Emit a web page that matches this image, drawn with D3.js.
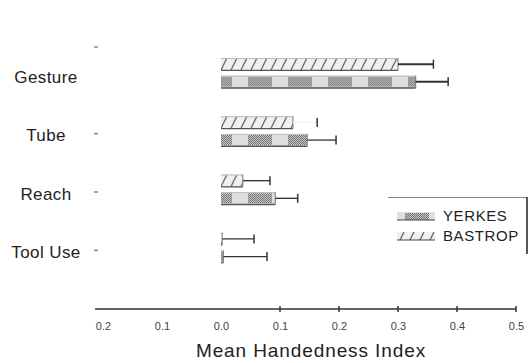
<!DOCTYPE html>
<html>
<head>
<meta charset="utf-8">
<script src="https://cdn.jsdelivr.net/npm/d3@7"></script>
<style>
  body { margin: 0; background: #fff; }
  svg { display: block; font-family: "Liberation Sans", Arial, sans-serif; }
</style>
</head>
<body>
<div class="content"></div>
<script>
const categories = ["Gesture", "Tube", "Reach", "Tool Use"];
const seriesNames = ["BASTROP", "YERKES"];
const bastropMeans = [0.30, 0.122, 0.037, 0.002];
const bastropErrors = [0.36, 0.163, 0.083, 0.056];
const yerkesMeans = [0.33, 0.146, 0.092, 0.004];
const yerkesErrors = [0.385, 0.195, 0.13, 0.078];
const tickValues = [-0.2, -0.1, 0.0, 0.1, 0.2, 0.3, 0.4, 0.5];
const tickLabels = ["0.2", "0.1", "0.0", "0.1", "0.2", "0.3", "0.4", "0.5"];

const width = 531;
const height = 363;

const svg = d3
  .select(".content")
  .append("svg")
  .attr("width", width)
  .attr("height", height);

//--> patterns
const defs = svg.append("defs");

const checker = defs
  .append("pattern")
  .attr("id", "checker")
  .attr("patternUnits", "userSpaceOnUse")
  .attr("width", 2)
  .attr("height", 2);
checker.append("rect").attr("width", 2).attr("height", 2).attr("fill", "#cfcfcf");
checker.append("rect").attr("width", 1).attr("height", 1).attr("fill", "#6a6a6a");
checker.append("rect").attr("x", 1).attr("y", 1).attr("width", 1).attr("height", 1).attr("fill", "#6a6a6a");

const stipple = defs
  .append("pattern")
  .attr("id", "stipple")
  .attr("patternUnits", "userSpaceOnUse")
  .attr("width", 40)
  .attr("height", 12);
stipple.append("rect").attr("width", 40).attr("height", 12).attr("fill", "#dedede");
stipple.append("rect").attr("x", 8).attr("y", 1).attr("width", 24).attr("height", 10).attr("fill", "url(#checker)");

const hatch = defs
  .append("pattern")
  .attr("id", "hatch")
  .attr("patternUnits", "userSpaceOnUse")
  .attr("width", 10)
  .attr("height", 12);
hatch.append("rect").attr("width", 10).attr("height", 12).attr("fill", "#f0f0f0");
hatch
  .append("line")
  .attr("x1", 1).attr("y1", 12).attr("x2", 7).attr("y2", 0)
  .attr("stroke", "#666")
  .attr("stroke-width", 1.3);

const fills = { BASTROP: "url(#hatch)", YERKES: "url(#stipple)" };

//--> scales
const x = d3.scaleLinear().domain([-0.2, 0.5]).range([103, 516]);
const y0 = d3.scaleBand().domain(categories).range([44, 277]);
const y1 = d3
  .scaleBand()
  .domain(seriesNames)
  .range([14, 44])
  .paddingInner(0.3);

const rows = [];
categories.forEach((c, i) => {
  rows.push({ cat: c, series: "BASTROP", mean: bastropMeans[i], err: bastropErrors[i] });
  rows.push({ cat: c, series: "YERKES", mean: yerkesMeans[i], err: yerkesErrors[i] });
});

//--> bars
const bar = svg
  .selectAll(".bar")
  .data(rows)
  .enter()
  .append("g")
  .attr("class", "bar")
  .attr("transform", d => `translate(0, ${y0(d.cat) + y1(d.series)})`);

bar
  .append("rect")
  .attr("x", x(0))
  .attr("width", d => Math.max(1, x(d.mean) - x(0)))
  .attr("height", y1.bandwidth())
  .attr("fill", d => fills[d.series]);

// top and bottom edges
bar
  .append("line")
  .attr("x1", x(0))
  .attr("x2", d => x(d.mean))
  .attr("y1", 0.5)
  .attr("y2", 0.5)
  .attr("stroke", "#bbb");
bar
  .append("line")
  .attr("x1", x(0))
  .attr("x2", d => x(d.mean))
  .attr("y1", y1.bandwidth())
  .attr("y2", y1.bandwidth())
  .attr("stroke", "#555")
  .attr("stroke-width", 1.3);
bar
  .append("line")
  .attr("x1", d => x(d.mean))
  .attr("x2", d => x(d.mean))
  .attr("y1", 0)
  .attr("y2", y1.bandwidth())
  .attr("stroke", "#777");

//--> error bars
const mid = y1.bandwidth() / 2;
bar
  .append("line")
  .attr("x1", d => x(d.mean))
  .attr("x2", d => x(d.err))
  .attr("y1", mid)
  .attr("y2", mid)
  .attr("stroke", d => (d.cat === "Tube" && d.series === "BASTROP" ? "#f2f2f2" : "#333"))
  .attr("stroke-width", d => (d.cat === "Gesture" ? 2 : 1.3));
bar
  .append("line")
  .attr("x1", d => x(d.err))
  .attr("x2", d => x(d.err))
  .attr("y1", mid - 4.5)
  .attr("y2", mid + 4.5)
  .attr("stroke", "#333")
  .attr("stroke-width", 1.5);

//--> category labels
svg
  .selectAll(".cat-label")
  .data(categories)
  .enter()
  .append("text")
  .attr("class", "cat-label")
  .attr("x", 46)
  .attr("y", d => y0(d) + y0.bandwidth() / 2 + 10)
  .attr("text-anchor", "middle")
  .attr("font-size", 17)
  .attr("letter-spacing", 0.4)
  .attr("fill", "#222")
  .text(d => d);

//--> y ticks (little dashes)
const yAxis = d3
  .axisLeft(d3.scalePoint().domain(categories.slice(1)).range([y0("Tube") + 31, y0("Tool Use") + 31]))
  .tickSize(4)
  .tickFormat("");
svg
  .append("g")
  .attr("transform", "translate(98, 0)")
  .call(yAxis)
  .call(g => g.select(".domain").remove())
  .call(g => g.selectAll("line").attr("stroke", "#555"));
svg
  .append("line")
  .attr("x1", 94)
  .attr("x2", 98)
  .attr("y1", y0.range()[0] + 3)
  .attr("y2", y0.range()[0] + 3)
  .attr("stroke", "#555");

//--> x axis
const xAxis = d3
  .axisBottom(x)
  .tickValues(tickValues)
  .tickSize(0)
  .tickPadding(13)
  .tickFormat((d, i) => tickLabels[i]);

const gx = svg
  .append("g")
  .attr("transform", "translate(0, 309)")
  .call(xAxis);
gx.select(".domain").remove();
gx.selectAll("text").attr("font-size", 11).attr("fill", "#444").attr("font-family", "'Liberation Sans', Arial, sans-serif");

svg
  .append("line")
  .attr("x1", 95)
  .attr("x2", 516)
  .attr("y1", 309)
  .attr("y2", 309)
  .attr("stroke", "#333")
  .attr("stroke-width", 1.5);

svg
  .selectAll(".xtick")
  .data(tickValues.filter(v => v > 0))
  .enter()
  .append("line")
  .attr("class", "xtick")
  .attr("x1", d => x(d))
  .attr("x2", d => x(d))
  .attr("y1", 306)
  .attr("y2", 312)
  .attr("stroke", "#333")
  .attr("stroke-width", 1.5);

svg
  .append("text")
  .attr("x", 311)
  .attr("y", 357)
  .attr("text-anchor", "middle")
  .attr("font-size", 19)
  .attr("letter-spacing", 0.9)
  .attr("fill", "#222")
  .text("Mean Handedness Index");

//--> legend
const legend = svg.append("g").attr("id", "legend");
legend
  .append("line")
  .attr("x1", 388).attr("x2", 527).attr("y1", 197.5).attr("y2", 197.5)
  .attr("stroke", "#888");
legend
  .append("line")
  .attr("x1", 527).attr("x2", 527).attr("y1", 197).attr("y2", 254)
  .attr("stroke", "#444")
  .attr("stroke-width", 1.8);

const legendItems = ["YERKES", "BASTROP"];
const li = legend
  .selectAll(".legend-item")
  .data(legendItems)
  .enter()
  .append("g")
  .attr("class", "legend-item")
  .attr("transform", (d, i) => `translate(397, ${212 + i * 20})`);
li.append("rect")
  .attr("width", 38)
  .attr("height", 8)
  .attr("fill", d => fills[d]);
li.append("line")
  .attr("x1", 0).attr("x2", 38).attr("y1", 8).attr("y2", 8)
  .attr("stroke", "#444");
li.append("text")
  .attr("x", 46)
  .attr("y", 9)
  .attr("font-size", 15)
  .attr("letter-spacing", 0.6)
  .attr("fill", "#222")
  .text(d => d);
</script>
</body>
</html>
